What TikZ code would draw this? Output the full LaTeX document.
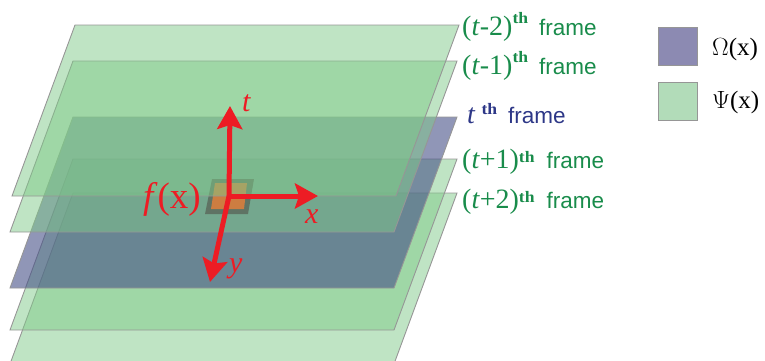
\documentclass[tikz,border=0pt]{standalone}
\usepackage{fontspec}
\usepackage{graphicx}
\setmainfont{Liberation Serif}
\newfontfamily\sansf{Liberation Sans}
\usetikzlibrary{arrows.meta}
\definecolor{pgreen}{RGB}{128,202,137}
\definecolor{ppurple}{RGB}{70,80,135}
\definecolor{edgegray}{RGB}{150,150,150}
\definecolor{axred}{RGB}{237,28,36}
\definecolor{lblgreen}{RGB}{25,140,75}
\definecolor{lblblue}{RGB}{45,55,135}
\definecolor{swpurple}{RGB}{140,138,178}
\definecolor{swgreen}{RGB}{178,220,185}
\definecolor{patchouter}{RGB}{95,115,100}
\definecolor{patchinner}{RGB}{205,125,65}
\tikzset{
  gplane/.style={fill=pgreen, fill opacity=0.5, draw=edgegray, line width=0.9pt},
  pplane/.style={fill=ppurple, fill opacity=0.6, draw=edgegray, line width=0.9pt},
  axisarrow/.style={draw=axred, line width=5pt, -{Stealth[length=23pt,width=25pt,inset=4pt]}},
  axlabel/.style={text=axred, inner sep=0pt, font=\fontsize{30}{32}\selectfont\itshape},
  framelbl/.style={inner sep=0pt, anchor=base west},
  swatch/.style={draw=edgegray, line width=0.8pt},
  leglbl/.style={inner sep=0pt, anchor=base west, font=\fontsize{25}{28}\selectfont},
}
\newcommand\myplane[3]{\draw[#1] (#2,#3) -- ++(384,0) -- ++(-63,171) -- ++(-384,0) -- cycle;}
\newcommand\serifpart{\fontsize{28}{30}\selectfont}
\newcommand\thtxt[1]{\raisebox{#1}{\scalebox{1.1}[1]{\fontsize{16}{16}\selectfont\bfseries th}}}
\newcommand\framewd{{\sansf\fontsize{22.5}{26}\selectfont frame}}
\begin{document}
\begin{tikzpicture}[x=1pt,y=-1pt]
\useasboundingbox (0,0) rectangle (765,360);
\begin{scope}
\clip (0,0) rectangle (765,360);
% planes, back to front
\myplane{gplane}{73}{193}
\myplane{gplane}{73}{159}
\myplane{pplane}{73}{117}
\myplane{gplane}{73}{61}
% patch f(x)
\fill[patchouter] (212,179) -- (254,179) -- (248,214) -- (205,214) -- cycle;
\fill[patchinner] (215,183) -- (247,183) -- (244,209) -- (211,209) -- cycle;
\myplane{gplane}{75}{25}
\end{scope}
% axes
\coordinate (o) at (229,196);
\coordinate (tt) at (230,106);
\coordinate (xt) at (318,196);
\coordinate (yt) at (210,282);
\draw[axisarrow] (o) -- (tt);
\draw[axisarrow] (o) -- (xt);
\draw[axisarrow] (o) -- (yt);
\node[axlabel, anchor=base west] (tl) at (242,111) {t};
\node[axlabel, anchor=base west] (xl) at (305,223) {x};
\node[axlabel, anchor=base west] (yl) at (229,272) {y};
\node[text=axred, inner sep=0pt, anchor=base east, font=\fontsize{37}{39}\selectfont] (fx) at (201,208) {\textit{f}(x)};
% frame labels
\node[framelbl, text=lblgreen] (l1) at (462,35) {\serifpart(\textit{t}-2)\thtxt{12pt}\hspace{11pt}\framewd};
\node[framelbl, text=lblgreen] (l2) at (462,74) {\serifpart(\textit{t}-1)\thtxt{12pt}\hspace{11pt}\framewd};
\node[framelbl, text=lblblue] (l3) at (467,123) {\serifpart\textit{t}\hspace{6pt}\thtxt{9pt}\hspace{11pt}\framewd};
\node[framelbl, text=lblgreen] (l4) at (462,168) {\serifpart(\textit{t}+1)\thtxt{6pt}\hspace{12pt}\framewd};
\node[framelbl, text=lblgreen] (l5) at (462,208) {\serifpart(\textit{t}+2)\thtxt{6pt}\hspace{12pt}\framewd};
% legend
\draw[swatch, fill=swpurple] (658,27) rectangle (697,65);
\draw[swatch, fill=swgreen] (658,82) rectangle (697,120);
\node[leglbl] (om) at (712,55) {$\Omega$(x)};
\node[leglbl] (ps) at (712,108) {$\Psi$(x)};
\end{tikzpicture}
\end{document}
